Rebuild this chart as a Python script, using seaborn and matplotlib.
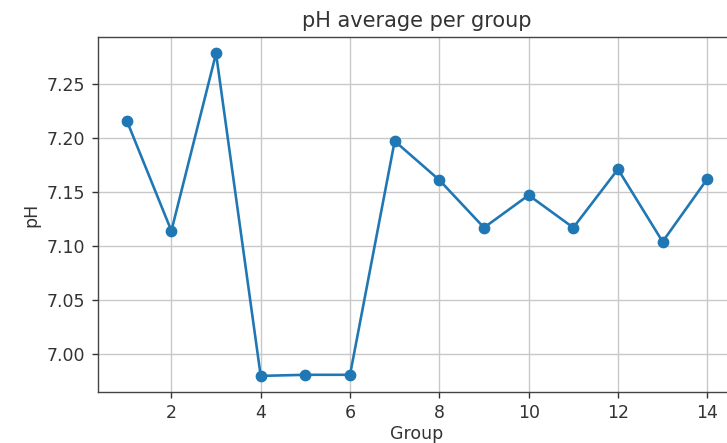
import matplotlib
matplotlib.use("Agg")
import matplotlib.pyplot as plt
import seaborn as sns
import pandas as pd

groups = [1, 2, 3, 4, 5, 6, 7, 8, 9, 10, 11, 12, 13, 14]
ph_mean = [7.216, 7.114, 7.278, 6.980, 6.981, 6.981, 7.197, 7.161,
           7.117, 7.147, 7.117, 7.171, 7.104, 7.162]

df = pd.DataFrame({"Group": groups, "pH": ph_mean})

fig = plt.figure(figsize=(727 / 125, 443 / 125), dpi=125)
ax = fig.add_axes([0.1344, 0.1151, 0.8784, 0.8007])

sns.lineplot(data=df, x="Group", y="pH", marker="o", color="#1f77b4",
             markeredgecolor="#1f77b4", markersize=6, linewidth=1.5, ax=ax)

ax.set_title("pH average per group", color="#333333")
ax.set_xlabel("Group", labelpad=1.5, color="#333333")
ax.set_ylabel("pH", color="#333333")
ax.tick_params(colors="#333333", labelcolor="#333333")
for spine in ax.spines.values():
    spine.set_color("#444444")
ax.grid(True, color="#c8c8c8")

fig.savefig("out.png", dpi=125)
